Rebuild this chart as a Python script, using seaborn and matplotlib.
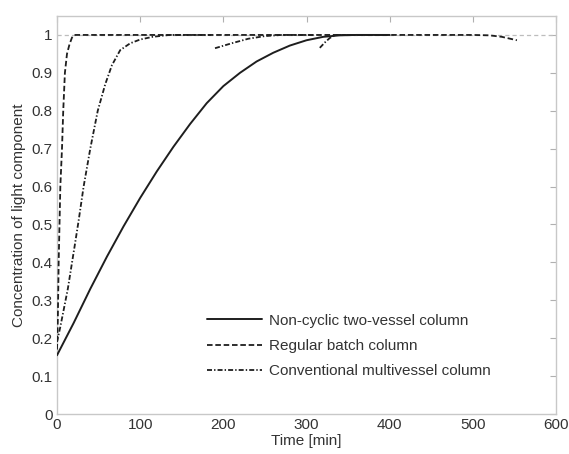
import matplotlib
matplotlib.use("Agg")
import matplotlib.pyplot as plt
import seaborn as sns
import pandas as pd
import numpy as np

# Non-cyclic two-vessel column (solid)
t_solid = [0, 20, 40, 60, 80, 100, 120, 140, 160, 180, 200, 220, 240, 260, 280, 300, 320, 340, 360, 400]
c_solid = [0.155, 0.24, 0.33, 0.415, 0.495, 0.57, 0.64, 0.705, 0.765, 0.82, 0.865, 0.90, 0.93, 0.953,
           0.972, 0.986, 0.995, 0.999, 1.0, 1.0]

# Regular batch column (dashed)
t_batch = [0, 1, 2, 3, 4, 6, 7.5, 9.5, 12, 15, 18, 21, 500, 520, 535, 545, 553]
c_batch = [0.17, 0.25, 0.40, 0.50, 0.60, 0.70, 0.80, 0.90, 0.95, 0.975, 0.993, 1.0, 1.0, 0.999, 0.995, 0.99, 0.986]

# Conventional multivessel column (dash-dot), three segments
t_multi1 = [0, 4, 13, 21, 26, 32, 40, 49, 58, 66, 76, 88, 100, 115, 135, 185]
c_multi1 = [0.19, 0.23, 0.33, 0.44, 0.51, 0.60, 0.70, 0.80, 0.87, 0.92, 0.96, 0.978, 0.988, 0.995, 1.0, 1.0]
t_multi2 = [190, 210, 230, 250, 270, 310]
c_multi2 = [0.965, 0.978, 0.99, 0.997, 1.0, 1.0]
t_multi3 = [316, 322, 328, 335, 400]
c_multi3 = [0.966, 0.98, 0.992, 1.0, 1.0]

labels = ["Non-cyclic two-vessel column", "Regular batch column", "Conventional multivessel column"]
x_ticks = [0, 100, 200, 300, 400, 500, 600]
y_ticks = [0, 0.1, 0.2, 0.3, 0.4, 0.5, 0.6, 0.7, 0.8, 0.9, 1]
y_ticklabels = ["0", "0.1", "0.2", "0.3", "0.4", "0.5", "0.6", "0.7", "0.8", "0.9", "1"]

sns.set_style("white")
plt.rcParams['font.family'] = ['Liberation Sans', 'DejaVu Sans']
plt.rcParams['lines.scale_dashes'] = False

fig = plt.figure(figsize=(5.69, 4.54), dpi=100)
ax = fig.add_axes([57/569, 40/454, 499/569, 398/454])

line_col = "#1e1e1e"
ax.axhline(1.0, color="#bdbdbd", lw=0.9, ls=(0, (3, 2.2)), zorder=1)

sns.lineplot(x=t_solid, y=c_solid, ax=ax, color=line_col, lw=1.4,
             linestyle="-", label=labels[0], sort=False, zorder=3)
sns.lineplot(x=t_batch, y=c_batch, ax=ax, color=line_col, lw=1.3,
             linestyle=(0, (4, 2)), label=labels[1], sort=False, zorder=3)
dd = (0, (3.6, 1.5, 1.0, 1.5))
sns.lineplot(x=t_multi1, y=c_multi1, ax=ax, color=line_col, lw=1.3,
             linestyle=dd, label=labels[2], sort=False, zorder=3)
sns.lineplot(x=t_multi2, y=c_multi2, ax=ax, color=line_col, lw=1.3,
             linestyle=dd, legend=False, sort=False, zorder=3)
sns.lineplot(x=t_multi3, y=c_multi3, ax=ax, color=line_col, lw=1.3,
             linestyle=dd, legend=False, sort=False, zorder=3)

ax.set_xlim(0, 600)
ax.set_ylim(0, 1.05)
ax.set_xticks(x_ticks)
ax.set_yticks(y_ticks)
ax.set_yticklabels(y_ticklabels)

txt_col = "#333333"
ax.tick_params(direction="in", length=4, width=0.8, colors="#b0b0b0",
               labelcolor=txt_col, labelsize=11, top=True, right=True, pad=3)
for s in ax.spines.values():
    s.set_color("#c8c8c8")
    s.set_linewidth(1.0)

ax.set_xlabel("Time [min]", fontsize=11, color=txt_col, labelpad=1)
ax.set_ylabel("Concentration of light component", fontsize=11, color=txt_col, labelpad=4)

leg = ax.legend(loc="center left", bbox_to_anchor=((207-57)/499, (414-346)/398),
                frameon=False, fontsize=11, handlelength=3.6, handletextpad=0.45,
                labelspacing=0.75, borderpad=0, borderaxespad=0)
for t in leg.get_texts():
    t.set_color(txt_col)

fig.savefig("out.png", dpi=100)
